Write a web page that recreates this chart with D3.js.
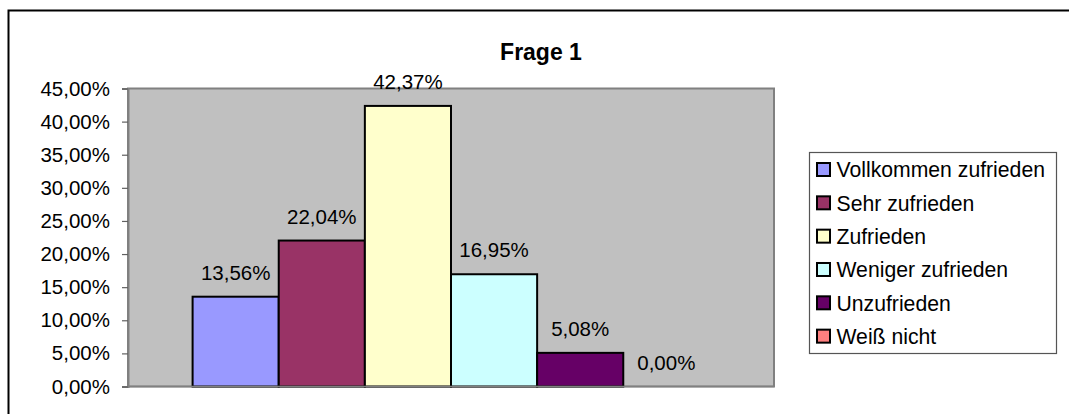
<!DOCTYPE html>
<html>
<head>
<meta charset="utf-8">
<script src="https://cdn.jsdelivr.net/npm/d3@7"></script>
<style>
  html, body { margin: 0; padding: 0; background: #fff; }
  svg { display: block; }
  text { font-family: "Liberation Sans", Arial, sans-serif; fill: #000; }
</style>
</head>
<body>
<svg id="chart" width="1069" height="414"></svg>
<script>
const title = "Frage 1";
const series = ["Vollkommen zufrieden", "Sehr zufrieden", "Zufrieden", "Weniger zufrieden", "Unzufrieden", "Weiß nicht"];
const values = [13.56, 22.04, 42.37, 16.95, 5.08, 0.00];
const colors = ["#9999FF", "#993366", "#FFFFCC", "#CCFFFF", "#660066", "#FF8080"];
const yTicks = [0, 5, 10, 15, 20, 25, 30, 35, 40, 45];

const fmt = v => v.toFixed(2).replace(".", ",") + "%";

const svg = d3.select("#chart");
const plot = { left: 128, right: 774, top: 88.5, bottom: 386.5 };

// outer chart border
svg.append("rect")
  .attr("x", 8.5).attr("y", 10.5)
  .attr("width", 1100).attr("height", 500)
  .attr("fill", "#fff").attr("stroke", "#000").attr("stroke-width", 2);

// title
svg.append("text")
  .attr("x", 541).attr("y", 60)
  .attr("text-anchor", "middle")
  .style("font-size", "23px").style("font-weight", "bold")
  .text(title);

const y = d3.scaleLinear().domain([0, 45]).range([plot.bottom, plot.top]);
const x = d3.scaleBand().domain(series).range([plot.left, plot.right]).paddingInner(0).paddingOuter(0.75);

// plot area
svg.append("rect")
  .attr("x", plot.left).attr("y", plot.top)
  .attr("width", plot.right - plot.left).attr("height", plot.bottom - plot.top)
  .attr("fill", "#C0C0C0").attr("stroke", "#808080").attr("stroke-width", 2);

// y axis
const yAxis = d3.axisLeft(y).tickValues(yTicks).tickSize(6).tickPadding(12).tickFormat(fmt);
const ga = svg.append("g").attr("transform", `translate(${plot.left},0)`).call(yAxis);
ga.select(".domain").attr("stroke", "#808080").attr("stroke-width", 2);
ga.selectAll(".tick line").attr("stroke", "#606060").attr("stroke-width", 1.2);
ga.selectAll(".tick text")
  .style("font-size", "20.5px")
  .style("font-family", "'Liberation Sans', Arial, sans-serif")
  .attr("fill", "#000");

// bars
svg.append("g").selectAll("rect").data(series).join("rect")
  .attr("x", d => x(d))
  .attr("y", (d, i) => y(values[i]))
  .attr("width", x.bandwidth())
  .attr("height", (d, i) => y(0) - y(values[i]))
  .attr("fill", (d, i) => colors[i])
  .attr("stroke", "#000").attr("stroke-width", 2);

// baseline
svg.append("line")
  .attr("x1", plot.left).attr("x2", plot.right)
  .attr("y1", y(0)).attr("y2", y(0))
  .attr("stroke", "#808080").attr("stroke-width", 1.5);

// data labels
svg.append("g").selectAll("text").data(series).join("text")
  .attr("x", d => x(d) + x.bandwidth() / 2)
  .attr("y", (d, i) => y(values[i]) - 17)
  .attr("text-anchor", "middle")
  .style("font-size", "20.5px")
  .text((d, i) => fmt(values[i]));

// legend
const lg = svg.append("g");
lg.append("rect")
  .attr("x", 809.5).attr("y", 152.5).attr("width", 247).attr("height", 201)
  .attr("fill", "#fff").attr("stroke", "#555").attr("stroke-width", 1.2);
const rowY = i => 170 + i * 33.33;
lg.selectAll(".sw").data(series).join("rect").attr("class", "sw")
  .attr("x", 817).attr("y", (d, i) => rowY(i) - 7)
  .attr("width", 13).attr("height", 13)
  .attr("fill", (d, i) => colors[i])
  .attr("stroke", "#000").attr("stroke-width", 2);
lg.selectAll(".lt").data(series).join("text").attr("class", "lt")
  .attr("x", 836.5).attr("y", (d, i) => rowY(i))
  .attr("dy", "0.35em")
  .style("font-size", "21.2px")
  .text(d => d);
</script>
</body>
</html>
